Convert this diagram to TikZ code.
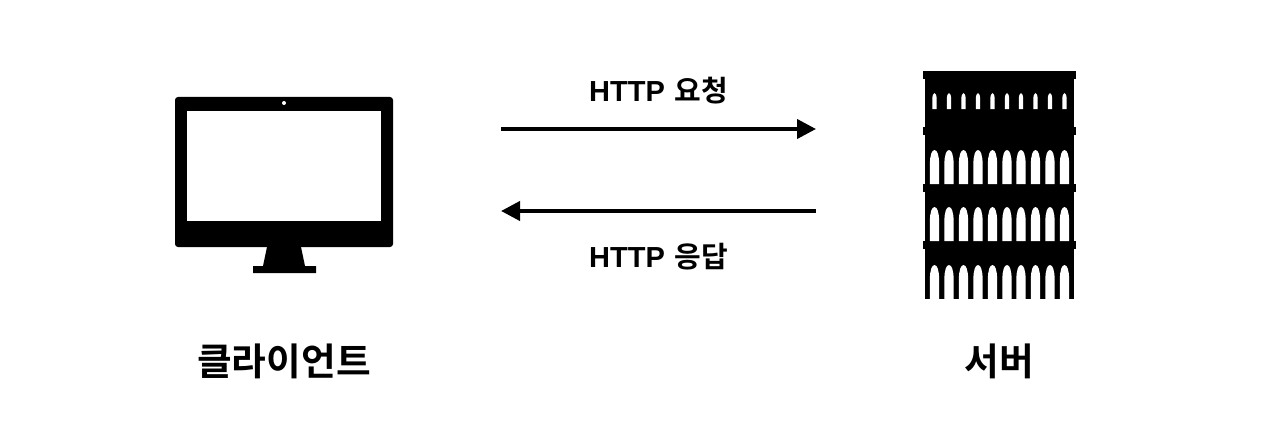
\documentclass[tikz,border=0pt]{standalone}
\usepackage{fontspec}
\setmainfont{Noto Sans CJK KR}[BoldFont={Noto Sans CJK KR Bold}]
\newfontfamily\latinbold{Liberation Sans Bold}
\usetikzlibrary{arrows.meta}
\tikzset{
  ink/.style={fill=black,draw=none},
  hole/.style={fill=white,draw=none},
  msg/.style={line width=4pt,-{Triangle[length=19pt,width=19pt]},black},
  httplabel/.style={font=\bfseries\fontsize{29pt}{33pt}\selectfont,inner sep=0pt,anchor=center},
  title/.style={font=\bfseries\fontsize{37.7pt}{44pt}\selectfont,inner sep=0pt,anchor=center},
}
\newcommand{\archrow}[4]{% top, bottom, half width, shoulder
  \foreach \cx in {934.5,949,963.5,978,992.5,1007,1021,1035.5,1050,1064.5}{
    \fill[hole] (\cx-#3,#2) -- (\cx-#3,#4) .. controls (\cx-#3,#1+0.4*#4-0.4*#1) and (\cx-0.6*#3,#1) .. (\cx,#1)
      .. controls (\cx+0.6*#3,#1) and (\cx+#3,#1+0.4*#4-0.4*#1) .. (\cx+#3,#4) -- (\cx+#3,#2) -- cycle;
  }}
\begin{document}
\begin{tikzpicture}[x=1pt,y=-1pt]
\useasboundingbox (0,0) rectangle (1286,436);
\fill[white] (0,0) rectangle (1286,436);
% monitor
\fill[ink,rounded corners=3pt] (175,97) rectangle (393,247);
\fill[hole] (187,111) rectangle (381,221);
\fill[hole] (284,103) circle (2);
\fill[ink] (267,247) -- (301,247) -- (305,266) -- (316,266) -- (316,273) -- (253,273) -- (253,266) -- (263,266) -- cycle;
% server
\fill[ink] (925,75) rectangle (1074,299);
\fill[ink] (923,71) rectangle (1076,79);
\fill[ink] (923,127) rectangle (1076,135);
\fill[ink] (923,184) rectangle (1076,192);
\fill[ink] (923,241) rectangle (1076,249);
\archrow{93}{109}{2.2}{100}
\archrow{150}{184}{4.6}{164}
\archrow{207}{241}{4.6}{221}
\archrow{265}{299.5}{4.6}{279}
% arrows
\coordinate (reqA) at (501,129);
\coordinate (reqB) at (816,129);
\coordinate (resA) at (816,211);
\coordinate (resB) at (501,211);
\draw[msg] (reqA) -- (reqB);
\draw[msg] (resA) -- (resB);
% labels
\node[httplabel] (req) at (658.5,90.5) {{\latinbold HTTP}\hspace{3pt} 요청};
\node[httplabel] (res) at (658.5,256.5) {{\latinbold HTTP}\hspace{3pt} 응답};
\node[title] (client) at (284,361) {클라이언트};
\node[title] (server) at (999,361) {서버};
\end{tikzpicture}
\end{document}
